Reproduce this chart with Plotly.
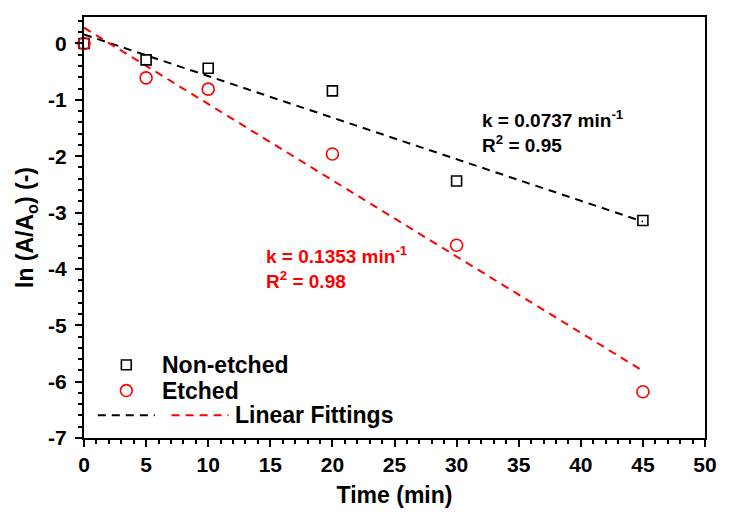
import plotly.graph_objects as go

# ---- data ----
time_min = [0, 5, 10, 20, 30, 45]
non_etched = [0.0, -0.29, -0.44, -0.84, -2.44, -3.14]
etched = [0.0, -0.61, -0.81, -1.96, -3.58, -6.18]

fit_x = [0, 45]
fit_non_etched = [0.16, -3.16]
fit_etched = [0.28, -5.81]

k_non_etched = "0.0737"
r2_non_etched = "0.95"
k_etched = "0.1353"
r2_etched = "0.98"

x_ticks = [0, 5, 10, 15, 20, 25, 30, 35, 40, 45, 50]
y_ticks = [0, -1, -2, -3, -4, -5, -6, -7]
y_ticklabels = ["0", "-1", "-2", "-3", "-4", "-5", "-6", "-7"]

# plot-area pixel geometry (for legend drawn in paper coords)
L, R, T, B = 84, 715, 17, 443
W, H = 729, 516


def px(x):
    return (x - L) / (R - L)


def py(y):
    return (B - y) / (B - T)


FONT = "Liberation Sans, Arial, sans-serif"

fig = go.Figure()

fig.add_trace(go.Scatter(x=fit_x, y=fit_non_etched, mode="lines",
                         line=dict(color="black", width=2, dash="8px,6px"),
                         showlegend=False, hoverinfo="skip"))
fig.add_trace(go.Scatter(x=fit_x, y=fit_etched, mode="lines",
                         line=dict(color="#ff0000", width=2, dash="8px,6px"),
                         showlegend=False, hoverinfo="skip"))
fig.add_trace(go.Scatter(x=time_min, y=non_etched, mode="markers", name="Non-etched",
                         marker=dict(symbol="square-open", size=10, color="black",
                                     line=dict(width=1.6, color="black")),
                         cliponaxis=False, showlegend=False))
fig.add_trace(go.Scatter(x=time_min, y=etched, mode="markers", name="Etched",
                         marker=dict(symbol="circle-open", size=12, color="#ff0000",
                                     line=dict(width=1.6, color="#ff0000")),
                         cliponaxis=False, showlegend=False))

shapes = []
# legend symbols
shapes.append(dict(type="rect", xref="paper", yref="paper",
                   x0=px(122), x1=px(132), y0=py(374), y1=py(364),
                   line=dict(color="black", width=1.6)))
shapes.append(dict(type="circle", xref="paper", yref="paper",
                   x0=px(121), x1=px(133), y0=py(401), y1=py(389),
                   line=dict(color="#ff0000", width=1.6)))
shapes.append(dict(type="line", xref="paper", yref="paper",
                   x0=px(98), x1=px(156), y0=py(420), y1=py(420),
                   line=dict(color="black", width=2, dash="8px,6px")))
shapes.append(dict(type="line", xref="paper", yref="paper",
                   x0=px(173), x1=px(231), y0=py(420), y1=py(420),
                   line=dict(color="#ff0000", width=2, dash="8px,6px")))

annotations = [
    dict(text="Non-etched", x=px(161), y=py(369), xanchor="left", yanchor="middle",
         font=dict(size=23, color="black")),
    dict(text="Etched", x=px(161), y=py(395), xanchor="left", yanchor="middle",
         font=dict(size=23, color="black")),
    dict(text="Linear Fittings", x=px(235), y=py(420), xanchor="left", yanchor="middle",
         font=dict(size=23, color="black")),
    dict(text=f"k = {k_non_etched} min<sup>-1</sup><br>R<sup>2</sup> = {r2_non_etched}",
         x=px(486), y=py(133), xanchor="left", yanchor="middle", align="left",
         font=dict(size=19, color="black")),
    dict(text=f"k = {k_etched} min<sup>-1</sup><br>R<sup>2</sup> = {r2_etched}",
         x=px(267), y=py(270), xanchor="left", yanchor="middle", align="left",
         font=dict(size=19, color="#ff0000")),
]
for a in annotations:
    a.update(xref="paper", yref="paper", showarrow=False)
    a["font"].update(family=FONT, weight="bold")

fig.update_layout(
    width=W, height=H,
    margin=dict(l=L, r=W - R, t=T, b=H - B),
    paper_bgcolor="white", plot_bgcolor="white",
    font=dict(family=FONT, color="black", weight="bold"),
    shapes=shapes, annotations=annotations,
    showlegend=False,
)

fig.update_xaxes(
    range=[0, 50], tickvals=x_ticks, ticktext=[str(v) for v in x_ticks],
    showgrid=False, zeroline=False,
    showline=True, linecolor="black", linewidth=2, mirror=True,
    ticks="outside", ticklen=7, tickwidth=2, tickcolor="black",
    minor=dict(dtick=1, tick0=0, ticks="outside", ticklen=4, tickwidth=1.5, tickcolor="black"),
    tickfont=dict(size=21, family=FONT, weight="bold"),
    title=dict(text="Time (min)", font=dict(size=23, family=FONT, weight="bold"), standoff=12),
)
fig.update_yaxes(
    range=[-7, 0.47], tickvals=y_ticks, ticktext=y_ticklabels,
    showgrid=False, zeroline=False,
    showline=True, linecolor="black", linewidth=2, mirror=True,
    ticks="outside", ticklen=7, tickwidth=2, tickcolor="black",
    minor=dict(dtick=0.2, tick0=0, ticks="outside", ticklen=4, tickwidth=1.5, tickcolor="black"),
    tickfont=dict(size=21, family=FONT, weight="bold"),
    ticklabelstandoff=4,
    title=dict(text="ln (A/A<sub>o</sub>) (-)", font=dict(size=23, family=FONT, weight="bold"),
               standoff=8),
)

fig.write_html("out.html")
